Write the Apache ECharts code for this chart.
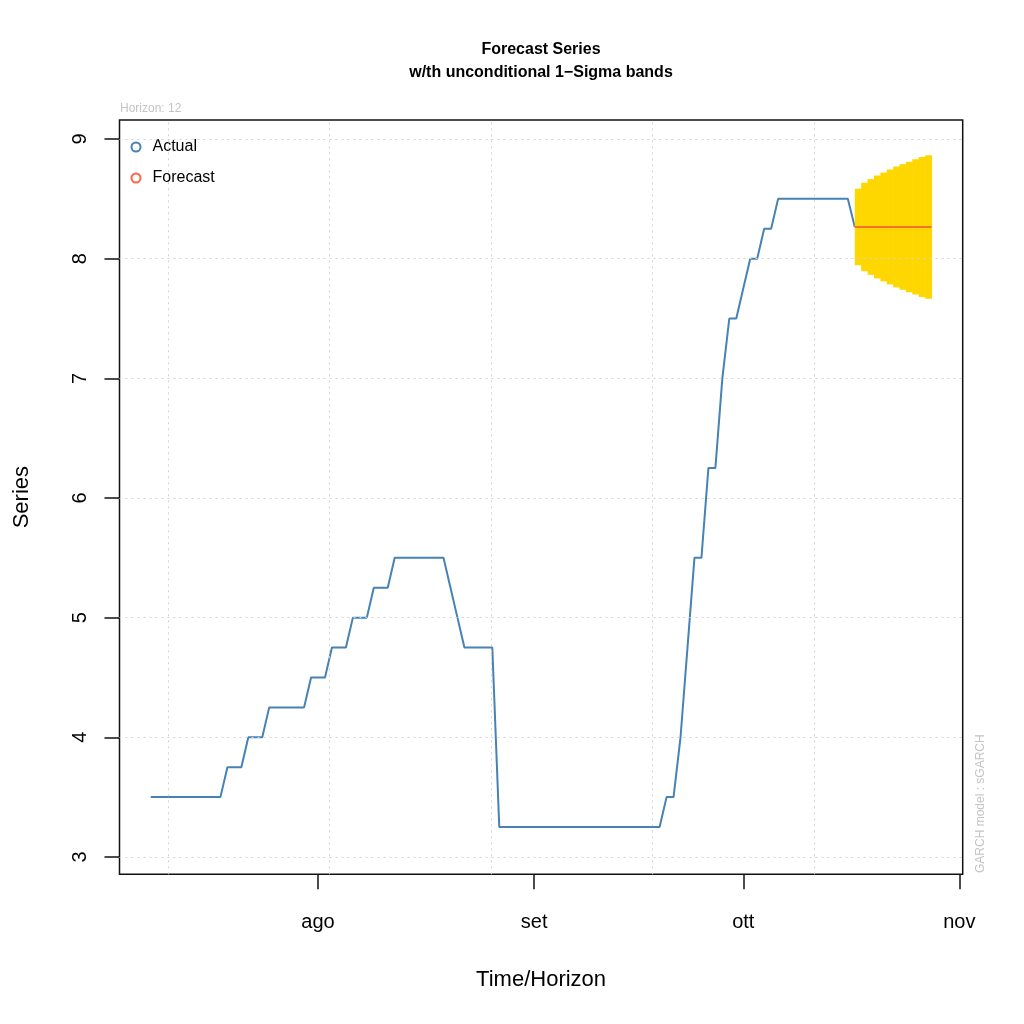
<!DOCTYPE html>
<html><head><meta charset="utf-8">
<script src="https://cdn.jsdelivr.net/npm/echarts@6/dist/echarts.min.js"></script>
<style>html,body{margin:0;padding:0;background:#fff}#chart{width:1024px;height:1024px}</style>
</head><body><div id="chart"></div>
<script>
// ---------------- data ----------------
const actualStartDate = '2021-07-08';   // daily observations
const actualValues = [
  3.5, 3.5, 3.5, 3.5, 3.5, 3.5, 3.5, 3.5, 3.5, 3.5, 3.5,
  3.75, 3.75, 3.75,
  4.0, 4.0, 4.0,
  4.25, 4.25, 4.25, 4.25, 4.25, 4.25,
  4.5, 4.5, 4.5,
  4.75, 4.75, 4.75,
  5.0, 5.0, 5.0,
  5.25, 5.25, 5.25,
  5.5, 5.5, 5.5, 5.5, 5.5, 5.5, 5.5, 5.5,
  5.25, 5.0,
  4.75, 4.75, 4.75, 4.75, 4.75,
  3.25, 3.25, 3.25, 3.25, 3.25, 3.25, 3.25, 3.25, 3.25, 3.25, 3.25, 3.25,
  3.25, 3.25, 3.25, 3.25, 3.25, 3.25, 3.25, 3.25, 3.25, 3.25, 3.25, 3.25,
  3.5, 3.5,
  4.0, 4.75,
  5.5, 5.5,
  6.25, 6.25,
  7.0,
  7.5, 7.5,
  7.75,
  8.0, 8.0,
  8.25, 8.25,
  8.5, 8.5, 8.5, 8.5, 8.5, 8.5, 8.5, 8.5, 8.5, 8.5, 8.5
];
const forecastStartDate = '2021-10-17';
const forecastValues = [8.265, 8.265, 8.265, 8.265, 8.265, 8.265, 8.265, 8.265, 8.265, 8.265, 8.265, 8.265];
const forecastSigma  = [0.32, 0.37, 0.40, 0.43, 0.455, 0.48, 0.505, 0.525, 0.545, 0.565, 0.585, 0.60];
const monthTickDates = ['2021-08-01', '2021-09-01', '2021-10-01', '2021-11-01'];
const monthTickLabels = ['ago', 'set', 'ott', 'nov'];
const yTickValues = [3, 4, 5, 6, 7, 8, 9];
const horizonLabel = 'Horizon: 12';
const modelLabel = 'GARCH model : sGARCH';

// ---------------- helpers ----------------
const DAY = 86400000;
const dayOf = s => Date.UTC(+s.slice(0,4), +s.slice(5,7)-1, +s.slice(8,10)) / DAY;
const actualDays = actualValues.map((v, i) => dayOf(actualStartDate) + i);
const forecastDays = forecastValues.map((v, i) => dayOf(forecastStartDate) + i);
const monthTickDays = monthTickDates.map(dayOf);

const firstDay = actualDays[0], lastDay = forecastDays[forecastDays.length - 1];
const pad = 0.04 * (lastDay - firstDay);
const xMin = firstDay - pad, xMax = lastDay + pad;
const yMin = 2.855, yMax = 9.159;

// vertical grid (R grid(): pretty steps of 2e6 seconds)
const gridStep = 2e6 / 86400;
const gridAnchor = dayOf('2021-08-01') + 1.68;
const vGrid = [];
for (let v = gridAnchor - Math.ceil((gridAnchor - xMin) / gridStep) * gridStep; v <= xMax; v += gridStep) {
  if (v >= xMin) vGrid.push(v);
}

const actualLine = actualDays.map((d, i) => [d, actualValues[i]]);
actualLine.push([forecastDays[0], forecastValues[0]]);
const forecastLine = forecastDays.map((d, i) => [d, forecastValues[i]]);
const bandData = forecastDays.map((d, i) => [d, forecastValues[i] - forecastSigma[i], forecastValues[i] + forecastSigma[i]]);

const FONT = "'Liberation Sans', Arial, Helvetica, sans-serif";
const chart = echarts.init(document.getElementById('chart'), null, {renderer: 'canvas'});

chart.setOption({
  animation: false,
  backgroundColor: '#fff',
  textStyle: {fontFamily: FONT},
  grid: {left: 119.5, right: 61.3, top: 120, bottom: 149.7, show: true,
         borderColor: '#111', borderWidth: 1.5, backgroundColor: 'transparent'},
  legend: {
    orient: 'vertical', left: 130.5, top: 139, padding: 0, itemWidth: 9, itemHeight: 9, itemGap: 15,
    selectedMode: false,
    data: [{name: 'Actual', icon: 'emptyCircle'}, {name: 'Forecast', icon: 'emptyCircle'}],
    itemStyle: {borderWidth: 1.5},
    textStyle: {fontSize: 16, color: '#000', fontFamily: FONT, padding: [0, 0, 0, 7]}
  },
  xAxis: {
    type: 'value', min: xMin, max: xMax,
    axisLine: {show: false}, splitLine: {show: false},
    axisTick: {show: true, customValues: monthTickDays, length: 15, lineStyle: {color: '#111', width: 1.5}},
    axisLabel: {show: true, customValues: monthTickDays, fontSize: 20, margin: 38, color: '#000', fontFamily: FONT,
      formatter: v => { const i = monthTickDays.findIndex(m => Math.abs(m - v) < 0.01); return i >= 0 ? monthTickLabels[i] : ''; }},
    name: 'Time/Horizon', nameLocation: 'middle', nameGap: 95,
    nameTextStyle: {fontSize: 22, color: '#000', fontFamily: FONT}
  },
  yAxis: {
    type: 'value', min: yMin, max: yMax,
    axisLine: {show: false}, splitLine: {show: false},
    axisTick: {show: true, customValues: yTickValues, length: 15, lineStyle: {color: '#111', width: 1.5}},
    axisLabel: {show: true, customValues: yTickValues, fontSize: 20, margin: 29, rotate: 90, color: '#000', fontFamily: FONT,
      formatter: v => String(Math.round(v))},
    name: 'Series', nameLocation: 'middle', nameGap: 87, nameRotate: 90,
    nameTextStyle: {fontSize: 22, color: '#000', fontFamily: FONT}
  },
  series: [
    {
      name: 'grid', type: 'line', data: [], z: 1, silent: true,
      markLine: {
        silent: true, symbol: ['none', 'none'], label: {show: false},
        lineStyle: {color: '#d3d3d3', type: [2, 4], width: 1},
        data: vGrid.map(v => ({xAxis: v})).concat(yTickValues.map(v => ({yAxis: v})))
      }
    },
    {
      name: 'Actual', type: 'line', data: actualLine, showSymbol: false, z: 2,
      color: '#4682B4', lineStyle: {color: '#4682B4', width: 2}
    },
    {
      name: 'band', type: 'custom', data: bandData, z: 3, silent: true,
      encode: {x: 0, y: [1, 2]},
      renderItem: (params, api) => {
        const i = params.dataIndex, n = forecastDays.length;
        const span = forecastDays[n - 1] - forecastDays[0];
        const x0 = forecastDays[0] + i * span / n, x1 = forecastDays[0] + (i + 1) * span / n;
        const p0 = api.coord([x0, api.value(2)]);
        const p1 = api.coord([x1, api.value(1)]);
        return {type: 'rect', shape: {x: p0[0], y: p0[1], width: p1[0] - p0[0] + 0.6, height: p1[1] - p0[1]},
                style: {fill: '#FFD700'}};
      }
    },
    {
      name: 'Forecast', type: 'line', data: forecastLine, showSymbol: false, z: 4,
      color: '#FF6347', lineStyle: {color: '#F0503A', width: 1.5}
    }
  ],
  graphic: [
    {type: 'text', x: 541, y: 50, style: {text: 'Forecast Series', font: 'bold 16px ' + FONT, fill: '#000', align: 'center', verticalAlign: 'middle'}},
    {type: 'text', x: 541, y: 72.5, style: {text: 'w/th unconditional 1\u2212Sigma bands', font: 'bold 16px ' + FONT, fill: '#000', align: 'center', verticalAlign: 'middle'}},
    {type: 'text', x: 120, y: 109, style: {text: horizonLabel, font: '12px ' + FONT, fill: '#c4c4c4', align: 'left', verticalAlign: 'middle'}},
    {type: 'text', x: 981, y: 873, rotation: Math.PI / 2, style: {text: modelLabel, font: '12px ' + FONT, fill: '#c4c4c4', align: 'left', verticalAlign: 'middle'}}
  ]
});
</script></body></html>
